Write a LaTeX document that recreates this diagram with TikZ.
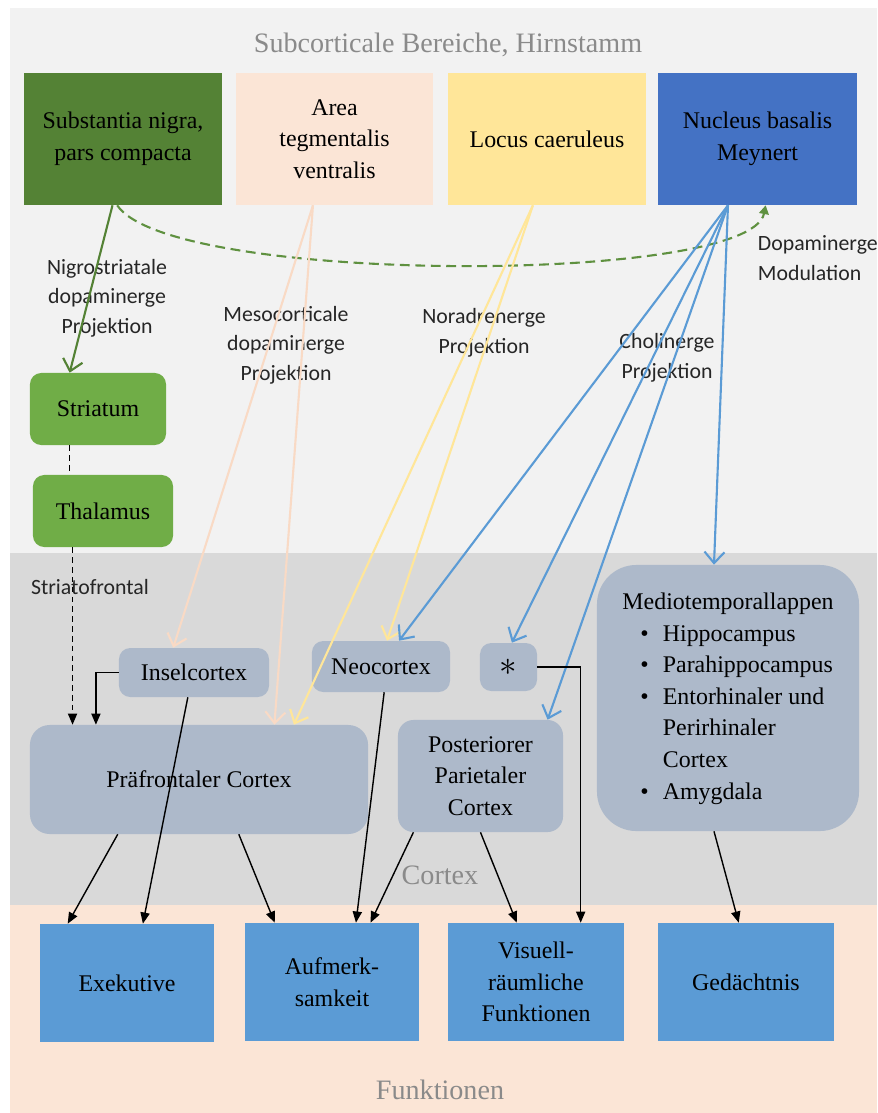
\documentclass[tikz,border=0pt]{standalone}
\usepackage{fontspec}
\setmainfont{Liberation Serif}
\newfontfamily\carlito{Carlito}
\usetikzlibrary{arrows.meta}

\definecolor{bgTop}{HTML}{F2F2F2}
\definecolor{bgCortex}{HTML}{D9D9D9}
\definecolor{bgFunc}{HTML}{FBE5D6}
\definecolor{snGreen}{HTML}{548235}
\definecolor{lightGreen}{HTML}{70AD47}
\definecolor{dashGreen}{HTML}{5F9140}
\definecolor{atvPeach}{HTML}{FBE5D6}
\definecolor{peachLine}{HTML}{F9DAC5}
\definecolor{lcYellow}{HTML}{FFE699}
\definecolor{nbBlue}{HTML}{4472C4}
\definecolor{cortexBlue}{HTML}{ADB9CA}
\definecolor{funcBlue}{HTML}{5B9BD5}
\definecolor{areaGray}{HTML}{8A8A8A}
\definecolor{labelGray}{HTML}{262626}

\newcommand{\boxfont}{\fontsize{17}{22.5}\selectfont}
\newcommand{\lblfont}{\carlito\fontsize{15.5}{21}\selectfont}
\newcommand{\areafont}{\fontsize{20}{24}\selectfont}

\begin{document}
\begin{tikzpicture}[x=0.025cm, y=-0.025cm,
	topbox/.style={rectangle, minimum width=4.95cm, minimum height=3.3cm, align=center, inner sep=2pt, font=\boxfont},
	greenbox/.style={rectangle, rounded corners=8pt, fill=lightGreen, minimum height=1.8cm, align=center, font=\boxfont},
	cortbox/.style={rectangle, rounded corners=8pt, fill=cortexBlue, inner sep=2pt, align=center, font=\boxfont},
	funcbox/.style={rectangle, fill=funcBlue, minimum width=4.35cm, minimum height=2.95cm, align=center, font=\boxfont},
	label/.style={align=center, font=\lblfont, text=labelGray},
	area/.style={font=\areafont, text=areaGray},
	proj/.style={line width=1.5pt, -{Straight Barb[length=2.8mm, width=5mm]}},
	>={Triangle[length=2.8mm, width=2.3mm]}]
	
	\useasboundingbox (0,0) rectangle (877,1113);
	
	%Areas
	\fill[bgTop] (10,8) rectangle (877,553);
	\fill[bgCortex] (10,553) rectangle (877,905);
	\fill[bgFunc] (10,905) rectangle (877,1113);
	\node[area] (subcort) at (448,45) {Subcorticale Bereiche, Hirnstamm};
	\node[area] (cortex) at (440,875) {Cortex};
	\node[area] (funktionen) at (440,1090) {Funktionen};
	
	%Nodes
	\node[topbox, fill=snGreen] (sn) at (123,139) {Substantia nigra,\\pars compacta};
	\node[topbox, fill=atvPeach, minimum width=4.925cm] (atv) at (334.5,139) {Area\\tegmentalis\\ventralis};
	\node[topbox, fill=lcYellow] (lc) at (547,139) {Locus caeruleus};
	\node[topbox, fill=nbBlue, minimum width=4.975cm] (nb) at (757.5,139) {Nucleus basalis\\Meynert};
	
	\node[greenbox, minimum width=3.4cm] (striatum) at (98,409) {Striatum};
	\node[greenbox, minimum width=3.5cm] (thalamus) at (103,511) {Thalamus};
	
	\node[cortbox, minimum width=3.75cm, minimum height=1.225cm] (insel) at (194,672.5) {Inselcortex};
	\node[cortbox, minimum width=3.45cm, minimum height=1.275cm] (neo) at (381,666.5) {Neocortex};
	\node[cortbox, minimum width=1.425cm, minimum height=1.2cm] (star) at (508.5,667) {\raisebox{-5pt}{\fontsize{28}{28}\selectfont$\ast$}};
	\node[cortbox, rounded corners=14pt, minimum width=8.45cm, minimum height=2.725cm] (pfc) at (199,779.5) {Präfrontaler Cortex};
	\node[cortbox, rounded corners=11pt, minimum width=4.125cm, minimum height=2.8cm] (ppc) at (480.5,776) {Posteriorer\\Parietaler\\Cortex};
	\node[cortbox, rounded corners=28pt, minimum width=6.55cm, minimum height=6.65cm] (mtl) at (728,698) {%
		\begin{tabular}{@{\hspace{12.8pt}}l@{\hspace{10pt}}l@{}}
			\multicolumn{2}{@{}l@{}}{Mediotemporallappen}\\
			\textbullet & Hippocampus\\
			\textbullet & Parahippocampus\\
			\textbullet & Entorhinaler und\\
			& Perirhinaler\\
			& Cortex\\
			\textbullet & Amygdala
		\end{tabular}};
	
	\node[funcbox] (exe) at (127,983) {Exekutive};
	\node[funcbox] (auf) at (332,982) {Aufmerk-\\samkeit};
	\node[funcbox, minimum width=4.4cm] (vis) at (536,982) {Visuell-\\räumliche\\Funktionen};
	\node[funcbox, minimum width=4.4cm] (ged) at (746,982) {Gedächtnis};
	
	%Labels
	\node[label] (nigro) at (107,298) {Nigrostriatale\\dopaminerge\\Projektion};
	\node[label] (meso) at (286,345) {Mesocorticale\\dopaminerge\\Projektion};
	\node[label] (nora) at (484,333) {Noradrenerge\\Projektion};
	\node[label] (chol) at (667,358) {Cholinerge\\Projektion};
	\node[label, anchor=west, align=left] (dopmod) at (753,258) {Dopaminerge\\Modulation};
	\node[label] (striato) at (90,587) {Striatofrontal};
	
	%Lines
	\draw[snGreen, proj] (sn.261) -- (striatum.128);
	\draw[dashGreen, line width=1.5pt, dash pattern=on 7pt off 4pt, -{Triangle[length=2.2mm, width=2.4mm]}] (sn.265) .. controls (170,285) and (750,285) .. (nb.277);
	\draw[black, line width=1pt, dash pattern=on 4pt off 3pt] (striatum.232) -- (striatum.232 |- thalamus.north);
	\draw[black, line width=1pt, dash pattern=on 4pt off 3pt, ->] (thalamus.230) -- (thalamus.230 |- pfc.north);
	
	\draw[peachLine, proj] (atv.252) -- (insel.130);
	\draw[peachLine, proj] (atv.252) -- (pfc.36);
	\draw[lcYellow, proj] (lc.258) -- (neo.77);
	\draw[lcYellow, proj] (lc.258) -- (pfc.30);
	\draw[funcBlue, proj] (nb.246) -- (neo.55);
	\draw[funcBlue, proj] (nb.246) -- (star.82);
	\draw[funcBlue, proj] (nb.246) -- (ppc.40);
	\draw[funcBlue, proj] (nb.246) -- (mtl.96);
	
	\draw[black, line width=1pt, ->] (insel.west) -| (pfc.152);
	\draw[black, line width=1pt, ->] (insel.256) -- (exe.75);
	\draw[black, line width=1pt, ->] (pfc.214) -- (exe.135);
	\draw[black, line width=1pt, ->] (pfc.306) -- (auf.134);
	\draw[black, line width=1pt, ->] (neo.277) -- (auf.68);
	\draw[black, line width=1pt, ->] (ppc.220) -- (auf.57);
	\draw[black, line width=1pt, ->] (ppc.south) -- (vis.108);
	\draw[black, line width=1pt, ->] (star.east) -| (vis.53);
	\draw[black, line width=1pt, ->] (mtl.264) -- (ged.97);
\end{tikzpicture}
\end{document}
